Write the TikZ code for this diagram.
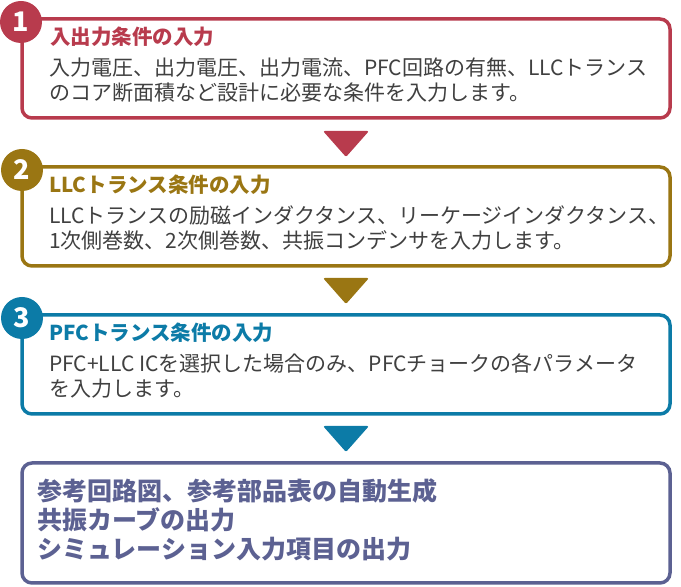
\documentclass[tikz,border=0pt]{standalone}
\usepackage{fontspec}
\setmainfont{Noto Sans CJK JP}
\usepackage{xcolor}
\usepackage{tikz}
\usetikzlibrary{calc, positioning}
\definecolor{stepred}{HTML}{B83B4D}
\definecolor{stepgold}{HTML}{9A7613}
\definecolor{stepblue}{HTML}{0C7BA7}
\definecolor{stepslate}{HTML}{5C6192}
\definecolor{textgray}{HTML}{404040}
\tikzset{
    stepbox/.style = {draw, rectangle, rounded corners=10pt, line width=3.5pt, fill=white, 
      minimum width=648pt, minimum height=99pt, inner sep=0pt, outer sep=0pt},
    numnode/.style = {circle, inner sep=0pt, minimum size=42pt, text=white, 
      font=\fontsize{27}{27}\selectfont\bfseries},
    titlenode/.style = {draw=none, fill=none, rectangle, inner sep=0pt, anchor=base west, 
      font=\fontsize{20.5}{25}\selectfont\bfseries},
    bodynode/.style = {draw=none, fill=none, rectangle, inner sep=0pt, anchor=base west, 
      align=left, text=textgray, font=\fontsize{21}{25}\selectfont},
    resultnode/.style = {draw=none, fill=none, rectangle, inner sep=0pt, anchor=base west, 
      align=left, text=stepslate, font=\fontsize{25}{29}\selectfont\bfseries},
    arrowtri/.style = {rounded corners=2pt}
}

\begin{document}
\begin{tikzpicture}[x=1pt, y=1pt]
	\useasboundingbox (0,0) rectangle (681,587);

	\node [stepbox, draw=stepred, name=InputBox] at (346,518.5) {};
	\node [stepbox, draw=stepgold, name=LLCBox, below=49pt of InputBox] {};
	\node [stepbox, draw=stepblue, name=PFCBox, below=49pt of LLCBox] {};
	\node [stepbox, draw=stepslate, name=OutputBox, below=49pt of PFCBox, minimum height=120pt] {};

	\node [numnode, fill=stepred, name=InputNum, xshift=-1pt, yshift=-3pt] at (InputBox.north west) {1};
	\node [numnode, fill=stepgold, name=LLCNum, yshift=-3pt] at (LLCBox.north west) {2};
	\node [numnode, fill=stepblue, name=PFCNum, yshift=-3pt] at (PFCBox.north west) {3};

	\node [titlenode, text=stepred, name=InputTitle, xshift=28pt, yshift=-25.6pt] at (InputBox.north west) 
		{入出力条件の入力};
	\node [bodynode, name=InputText, xshift=27pt, yshift=-81.6pt] at (InputBox.north west) 
		{入力電圧、出力電圧、出力電流、PFC回路の有無、LLCトランス\\のコア断面積など設計に必要な条件を入力します。};

	\node [titlenode, text=stepgold, name=LLCTitle, xshift=27pt, yshift=-25.6pt] at (LLCBox.north west) 
		{LLCトランス条件の入力};
	\node [bodynode, name=LLCText, xshift=27pt, yshift=-81.6pt] at (LLCBox.north west) 
		{LLCトランスの励磁インダクタンス、リーケージインダクタンス、\\1次側巻数、2次側巻数、共振コンデンサを入力します。};

	\node [titlenode, text=stepblue, name=PFCTitle, xshift=27pt, yshift=-25.6pt] at (PFCBox.north west) 
		{PFCトランス条件の入力};
	\node [bodynode, name=PFCText, xshift=27pt, yshift=-81.6pt] at (PFCBox.north west) 
		{PFC+LLC ICを選択した場合のみ、PFCチョークの各パラメータ\\を入力します。};

	\node [resultnode, name=OutputText, xshift=15pt, yshift=-95.5pt] at (OutputBox.north west) 
		{参考回路図、参考部品表の自動生成\\共振カーブの出力\\シミュレーション入力項目の出力};

	\fill [arrowtri, stepred] ($(InputBox.south)+(-23,-13)$) -- ($(InputBox.south)+(23,-13)$) 
		-- ($(InputBox.south)+(0,-39)$) -- cycle;
	\fill [arrowtri, stepgold] ($(LLCBox.south)+(-23,-12)$) -- ($(LLCBox.south)+(23,-12)$) 
		-- ($(LLCBox.south)+(0,-38)$) -- cycle;
	\fill [arrowtri, stepblue] ($(PFCBox.south)+(-23,-12)$) -- ($(PFCBox.south)+(23,-12)$) 
		-- ($(PFCBox.south)+(0,-38)$) -- cycle;
\end{tikzpicture}
\end{document}
